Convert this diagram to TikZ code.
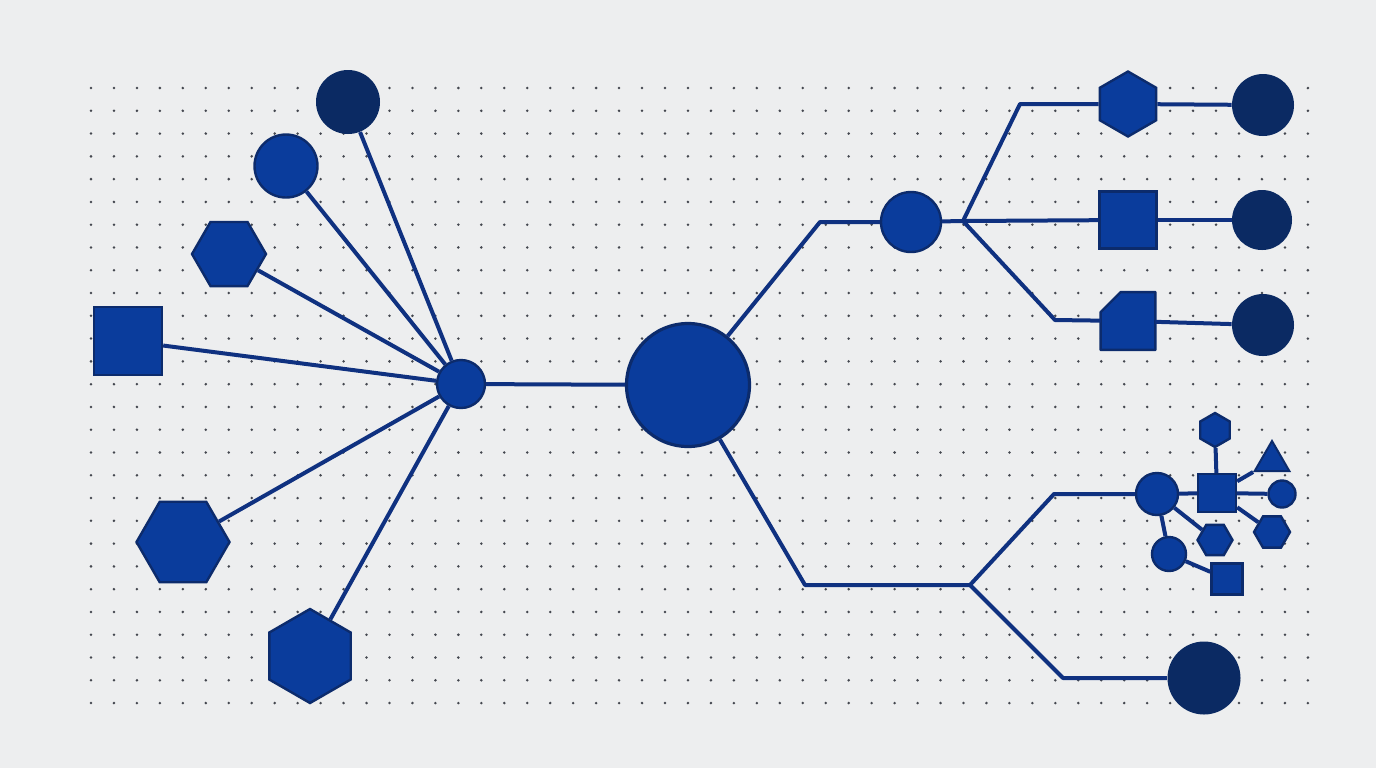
\documentclass[tikz,border=0pt]{standalone}
\usepackage{tikz}
\usetikzlibrary{shapes.geometric}
\definecolor{paper}{HTML}{EDEEEF}
\definecolor{dotgray}{HTML}{44474F}
\definecolor{royal}{HTML}{0A3C9C}
\definecolor{navy}{HTML}{0B2A63}
\definecolor{rim}{HTML}{0C2B6C}
\definecolor{wire}{HTML}{0F3180}

\begin{document}
\begin{tikzpicture}[x=0.5pt,y=-0.5pt,
        blob/.style={circle, fill=royal, draw=rim, line width=1.2pt, inner sep=0pt},
        deep/.style={circle, fill=navy, inner sep=0pt},
        hexa/.style={regular polygon, regular polygon sides=6, fill=royal, draw=rim, line width=1.2pt, inner sep=0pt},
        hexup/.style={hexa, shape border rotate=30},
        square/.style={rectangle, fill=royal, draw=rim, line width=1.2pt, inner sep=0pt},
        link/.style={draw=wire, line width=2pt, line join=round}]
        \fill[paper] (0,0) rectangle (1376,768);
        \useasboundingbox (0,0) rectangle (1376,768);
        \foreach \i in {0,...,53}
            \foreach \j in {0,...,27}
                \fill[dotgray] ({91+22.96*\i},{88+22.78*\j}) circle (1.4);

        % left fan
        \node[deep, minimum size=32pt] (c1) at (348,102) {};
        \node[blob, minimum size=31.5pt] (c2) at (286,166) {};
        \node[hexa, minimum size=37pt] (h1) at (229,254) {};
        \node[square, minimum size=34pt] (s1) at (128,341) {};
        \node[hexa, minimum size=46.5pt] (h2) at (183,542) {};
        \node[hexup, minimum size=47pt] (h3) at (310,656) {};
        \node[blob, minimum size=24pt] (hub) at (461,384) {};
        \node[blob, minimum size=61.5pt, line width=1.6pt] (core) at (688,385) {};

        % upper right
        \node[blob, minimum size=30pt] (u) at (911,222) {};
        \node[hexup, minimum size=32.5pt] (t1) at (1128,104) {};
        \node[square, minimum size=28.5pt] (t2) at (1128,220) {};
        \node[rectangle, inner sep=0pt, minimum width=27pt, minimum height=28.5pt] (t3) at (1128,321) {};
        \filldraw[fill=royal, draw=rim, line width=1.2pt, line join=round]
            ([yshift=-10pt]t3.north west) -- ([xshift=10pt]t3.north west) -- (t3.north east)
            -- (t3.south east) -- (t3.south west) -- cycle;
        \node[deep, minimum size=31pt] (r1) at (1263,105) {};
        \node[deep, minimum size=30pt] (r2) at (1262,220) {};
        \node[deep, minimum size=31pt] (r3) at (1263,325) {};
        \node[deep, minimum size=36.5pt] (r4) at (1204,678) {};

        % cluster
        \node[blob, minimum size=21pt] (ka) at (1157,494) {};
        \node[square, minimum size=19pt] (kb) at (1217,493) {};
        \node[hexup, minimum size=17pt] (kc) at (1215,430) {};
        \node[regular polygon, regular polygon sides=3, fill=royal, draw=rim, line width=1pt,
              inner sep=0pt, minimum size=20pt] (kd) at (1272,461) {};
        \node[blob, minimum size=13.5pt] (ke) at (1282,494) {};
        \node[hexa, minimum size=18pt] (kf) at (1272,532) {};
        \node[hexa, minimum size=17.5pt] (kg) at (1215,540) {};
        \node[blob, minimum size=17pt] (kh) at (1169,554) {};
        \node[square, minimum size=15.5pt] (ki) at (1227,579) {};

        \coordinate (b1) at (820,222);
        \coordinate (j1) at (963,221);
        \coordinate (b2) at (1020,104);
        \coordinate (b3) at (1055,320);
        \coordinate (b4) at (805,585);
        \coordinate (j2) at (970,585);
        \coordinate (b5) at (1054,494);
        \coordinate (b6) at (1063,678);

        \foreach \n in {c1,c2,h1,s1,h2,h3}
            \draw[link] (hub) -- (\n);
        \draw[link] (hub) -- (core);
        \draw[link] (core) -- (b1) -- (u) -- (j1) -- (b2) -- (t1);
        \draw[link] (j1) -- (t2);
        \draw[link] (j1) -- (b3) -- (t3);
        \draw[link] (t1) -- (r1);
        \draw[link] (t2) -- (r2);
        \draw[link] (t3) -- (r3);
        \draw[link] (core) -- (b4) -- (j2) -- (b5) -- (ka);
        \draw[link] (j2) -- (b6) -- (r4);
        \foreach \a/\b in {ka/kb,kb/kc,kb/kd,kb/ke,kb/kf,ka/kg,ka/kh,kh/ki}
            \draw[link] (\a) -- (\b);
\end{tikzpicture}
\end{document}
